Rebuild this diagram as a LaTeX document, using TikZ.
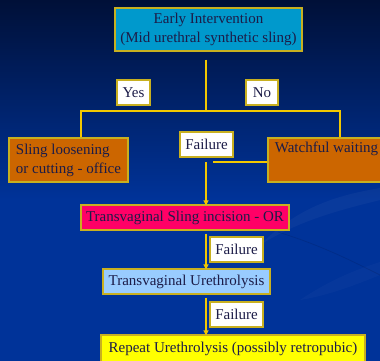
\documentclass[tikz,border=0pt]{standalone}
\usepackage{fontspec}
\setmainfont{Liberation Serif}
\usetikzlibrary{arrows.meta}
\definecolor{bgtop}{HTML}{001038}
\definecolor{bgbot}{HTML}{003399}
\definecolor{wire}{HTML}{F2C800}
\definecolor{rim}{HTML}{C8B020}
\definecolor{ink}{HTML}{1C1C48}
\definecolor{cyanbox}{HTML}{0099CC}
\definecolor{orangebox}{HTML}{CC6600}
\definecolor{redbox}{HTML}{FF0066}
\definecolor{bluebox}{HTML}{99CCFF}
\definecolor{yellowbox}{HTML}{FFFF00}
\tikzset{
  boxbase/.style={draw=rim, line width=1.2pt, text=ink, inner sep=0pt,
    font=\fontsize{15}{19}\selectfont},
  tag/.style={boxbase, fill=white, minimum width=33pt, minimum height=25pt},
  wirestyle/.style={draw=wire, line width=1.3pt},
  arrowstyle/.style={wirestyle, -{Triangle[length=5pt,width=5pt]}},
}
\begin{document}
\begin{tikzpicture}[x=1pt,y=-1pt]
  % background
  \useasboundingbox (0,0) rectangle (380,361);
  \clip (0,0) rectangle (380,361);
  \shade[top color=bgtop, bottom color=bgbot] (0,0) rectangle (380,200);
  \fill[bgbot] (0,199.5) rectangle (380,361);
  % faint swooshes
  \fill[white, opacity=0.035] (260,245) .. controls (300,205) and (340,195) .. (380,188)
    -- (380,200) .. controls (340,210) and (300,220) .. (260,245) -- cycle;
  \draw[bgtop, opacity=0.18, line width=0.7pt] (278,232) .. controls (320,245) and (350,260) .. (380,275);
  \fill[white, opacity=0.025] (300,300) .. controls (330,280) and (355,270) .. (380,262)
    -- (380,275) .. controls (355,285) and (330,295) .. (300,300) -- cycle;

  % boxes
  \node[boxbase, fill=cyanbox, minimum width=187pt, minimum height=43pt, align=center]
    (ei) at (208.5,29.5) {Early Intervention\\(Mid urethral synthetic sling)};
  \node[tag] (yes) at (133.5,92.5) {Yes};
  \node[tag, minimum width=32pt] (no) at (262,92.5) {No};
  \node[boxbase, fill=orangebox, minimum width=119pt, minimum height=44pt,
    align=left] (left) at (68.5,160) {Sling loosening\\or cutting - office};
  \node[boxbase, fill=orangebox, minimum width=117pt, minimum height=44pt,
    align=left] (right) at (326.5,160) {Watchful waiting\\\strut};
  \node[tag, minimum width=53pt] (fail1) at (206.5,144.5) {Failure};
  \node[boxbase, fill=redbox, minimum width=208pt, minimum height=25pt]
    (sling) at (185,217.5) {Transvaginal Sling incision - OR};
  \node[boxbase, fill=bluebox, minimum width=167pt, minimum height=25pt]
    (ureth) at (186.5,281.5) {Transvaginal Urethrolysis};
  \node[boxbase, fill=yellowbox, minimum width=264pt, minimum height=28pt]
    (rep) at (233,349) {Repeat Urethrolysis (possibly retropubic)};
  \node[tag, minimum width=53pt] (fail2) at (236.5,249.5) {Failure};
  \node[tag, minimum width=53pt] (fail3) at (236.5,314.5) {Failure};

  % connectors
  \coordinate (split) at (206,111);
  \coordinate (lt) at (81,111);
  \coordinate (rt) at (340,111);
  \coordinate (fj) at (206,162);
  \draw[wirestyle, shorten <=8pt] (ei.south -| split) -- (split);
  \draw[wirestyle] (lt |- left.north) -- (lt) -- (rt) -- (rt |- right.north);
  \draw[wirestyle] (right.west |- fj) -- ([xshift=7pt]fj);
  \draw[arrowstyle] (fj) -- ([yshift=-1pt]sling.north -| fj);
  \draw[arrowstyle, shorten <=3pt] (sling.south -| fj) -- ([yshift=-1pt]ureth.north -| fj);
  \draw[arrowstyle, shorten <=3pt] (ureth.south -| fj) -- ([yshift=-1pt]rep.north -| fj);
\end{tikzpicture}
\end{document}
